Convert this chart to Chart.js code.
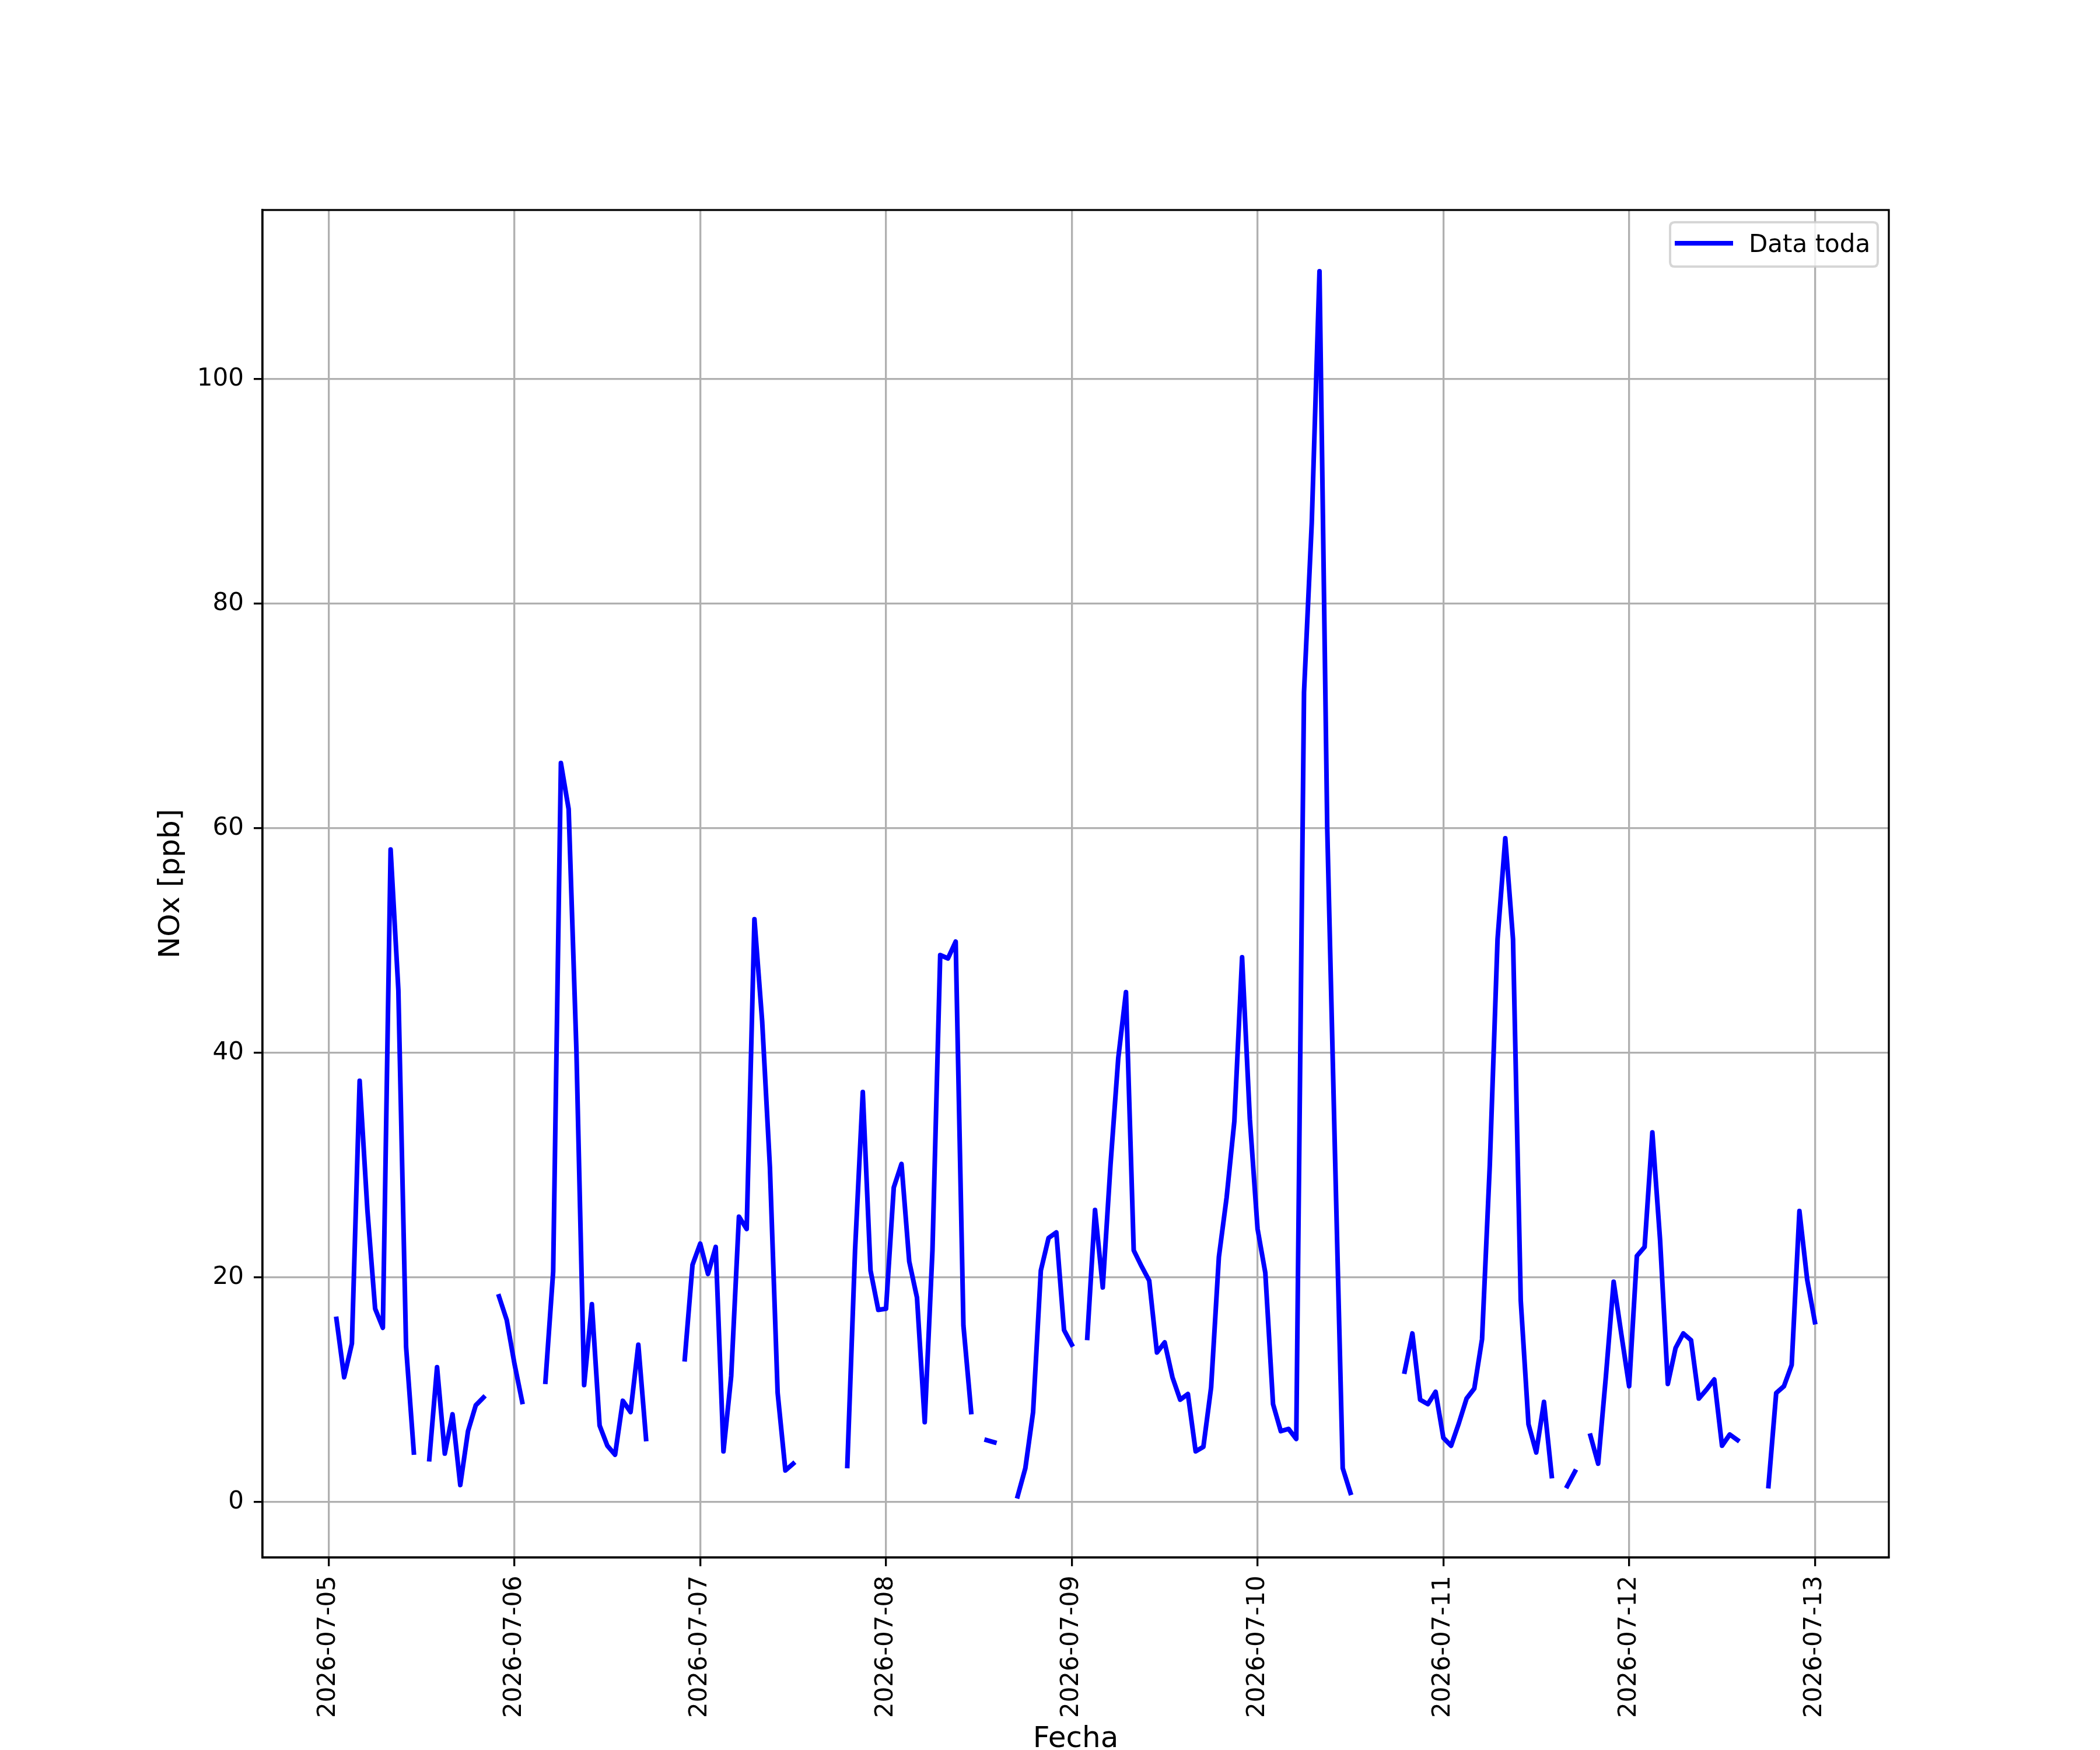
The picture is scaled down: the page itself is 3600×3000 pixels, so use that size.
<!DOCTYPE html>
<html>
<head>
<meta charset="utf-8">
<script src="https://cdn.jsdelivr.net/npm/chart.js@4.4.1/dist/chart.umd.min.js"></script>
<style>
  html, body { margin: 0; padding: 0; background: #ffffff; }
  #c { display: block; }
</style>
</head>
<body>
<canvas id="c" width="3600" height="3000" style="width:3600px;height:3000px"></canvas>
<script>
// Day tick labels (one tick per day at 00:00)
const dayLabels = ['2026-07-05','2026-07-06','2026-07-07','2026-07-08','2026-07-09','2026-07-10','2026-07-11','2026-07-12','2026-07-13'];

// Hourly NOx [ppb] values, index = hour of day (null = missing)
const nox0705 = [null,16.3,11.1,14.1,37.5,26.0,17.2,15.5,58.1,45.6,13.8,4.4,null,3.8,12.0,4.3,7.8,1.5,6.3,8.6,9.3,null,18.3,16.2];
const nox0706 = [12.3,8.9,null,null,10.7,20.5,65.8,61.7,40.3,10.4,17.6,6.8,5.0,4.2,9.0,8.0,14.0,5.6,null,null,null,null,12.7,21.1];
const nox0707 = [23.0,20.3,22.7,4.5,11.2,25.4,24.3,51.9,42.8,29.8,9.7,2.8,3.4,null,null,null,null,null,null,3.2,22.4,36.5,20.6,17.1];
const nox0708 = [17.2,28.0,30.1,21.4,18.2,7.1,22.4,48.7,48.4,49.9,15.7,8.0,null,5.5,5.3,null,null,0.5,3.0,8.0,20.6,23.5,24.0,15.3];
const nox0709 = [14.0,null,14.6,26.0,19.1,30.0,39.5,45.4,22.4,21.0,19.7,13.3,14.2,11.1,9.1,9.6,4.5,4.9,10.2,21.8,27.1,33.9,48.5,34.1];
const nox0710 = [24.3,20.4,8.7,6.3,6.5,5.6,72.1,87.2,109.6,60.0,31.0,3.0,0.8,null,null,null,null,null,null,11.6,15.0,9.1,8.7,9.8];
const nox0711 = [5.7,5.0,7.0,9.2,10.1,14.5,30.0,50.1,59.1,50.1,17.9,6.9,4.4,8.9,2.3,null,1.4,2.7,null,5.9,3.4,11.2,19.6,14.9];
const nox0712 = [10.3,21.9,22.7,32.9,23.3,10.5,13.7,15.0,14.4,9.2,10.0,10.9,5.0,6.0,5.5,null,null,null,1.4,9.7,10.3,12.2,25.9,19.8];
const nox0713 = [16.0];

const yTicks = [0, 20, 40, 60, 80, 100];
const seriesLabel = 'Data toda';
const xTitle = 'Fecha';
const yTitle = 'NOx [ppb]';

// Build points: x in hours since 2026-07-05 00:00
const days = [nox0705, nox0706, nox0707, nox0708, nox0709, nox0710, nox0711, nox0712, nox0713];
const points = [];
days.forEach((arr, d) => {
  arr.forEach((v, h) => {
    const hour = d * 24 + h;
    if (hour === 0 && v === null) return; // series starts at 01:00
    points.push({ x: hour, y: v });
  });
});

const LW = 3.3;

const framePlugin = {
  id: 'frameAndLegend',
  afterDraw(chart) {
    const { ctx, chartArea: a } = chart;
    ctx.save();
    // spines
    ctx.strokeStyle = '#000000';
    ctx.lineWidth = LW;
    ctx.strokeRect(a.left, a.top, a.right - a.left, a.bottom - a.top);
    // legend frame
    const lx = 2863, ly = 381, lw = 356, lh = 76, r = 8;
    ctx.beginPath();
    ctx.moveTo(lx + r, ly);
    ctx.lineTo(lx + lw - r, ly);
    ctx.quadraticCurveTo(lx + lw, ly, lx + lw, ly + r);
    ctx.lineTo(lx + lw, ly + lh - r);
    ctx.quadraticCurveTo(lx + lw, ly + lh, lx + lw - r, ly + lh);
    ctx.lineTo(lx + r, ly + lh);
    ctx.quadraticCurveTo(lx, ly + lh, lx, ly + lh - r);
    ctx.lineTo(lx, ly + r);
    ctx.quadraticCurveTo(lx, ly, lx + r, ly);
    ctx.closePath();
    ctx.fillStyle = 'rgba(255,255,255,0.8)';
    ctx.fill();
    ctx.strokeStyle = 'rgba(204,204,204,0.8)';
    ctx.lineWidth = 4;
    ctx.stroke();
    // legend handle
    ctx.beginPath();
    ctx.moveTo(2875, 417);
    ctx.lineTo(2967, 417);
    ctx.strokeStyle = '#0000ff';
    ctx.lineWidth = 8;
    ctx.lineCap = 'square';
    ctx.stroke();
    // legend text
    ctx.fillStyle = '#000000';
    ctx.font = '42px "DejaVu Sans"';
    ctx.textAlign = 'left';
    ctx.textBaseline = 'alphabetic';
    ctx.fillText(seriesLabel, 2998, 432);
    ctx.restore();
  }
};

new Chart(document.getElementById('c'), {
  type: 'line',
  data: {
    datasets: [{
      label: seriesLabel,
      data: points,
      borderColor: '#0000ff',
      backgroundColor: '#0000ff',
      borderWidth: 8,
      pointRadius: 0,
      pointHoverRadius: 0,
      tension: 0,
      spanGaps: false,
      borderCapStyle: 'square',
      borderJoinStyle: 'round',
      fill: false
    }]
  },
  options: {
    responsive: false,
    maintainAspectRatio: false,
    devicePixelRatio: 1,
    animation: false,
    events: [],
    layout: { padding: { left: 0, top: 360, right: 362, bottom: 0 } },
    plugins: {
      legend: { display: false },
      tooltip: { enabled: false }
    },
    scales: {
      x: {
        type: 'linear',
        min: -8.55,
        max: 201.55,
        afterFit(scale) { scale.height = 330; },
        afterBuildTicks(scale) {
          scale.ticks = dayLabels.map((_, i) => ({ value: i * 24 }));
        },
        ticks: {
          autoSkip: false,
          maxRotation: 90,
          minRotation: 90,
          padding: 16,
          color: '#000000',
          font: { family: 'DejaVu Sans', size: 42 },
          callback(value) {
            const i = Math.round(value / 24);
            return dayLabels[i] !== undefined ? dayLabels[i] : '';
          }
        },
        grid: {
          color: '#b0b0b0',
          lineWidth: LW,
          drawTicks: true,
          tickLength: 15,
          tickColor: '#000000',
          tickWidth: LW
        },
        border: { display: true, color: '#000000', width: LW },
        title: {
          display: true,
          text: xTitle,
          color: '#000000',
          font: { family: 'DejaVu Sans', size: 50, lineHeight: 0.6 },
          padding: { top: 0, bottom: 3 }
        }
      },
      y: {
        type: 'linear',
        min: -4.955,
        max: 115.055,
        afterFit(scale) { scale.width = 450; },
        afterBuildTicks(scale) {
          scale.ticks = yTicks.map(v => ({ value: v }));
        },
        ticks: {
          padding: 17,
          color: '#000000',
          font: { family: 'DejaVu Sans', size: 42 },
          callback(value) { return String(value); }
        },
        grid: {
          color: '#b0b0b0',
          lineWidth: LW,
          drawTicks: true,
          tickLength: 15,
          tickColor: '#000000',
          tickWidth: LW
        },
        border: { display: true, color: '#000000', width: LW },
        title: {
          display: true,
          text: yTitle,
          color: '#000000',
          font: { family: 'DejaVu Sans', size: 50, lineHeight: 1.2 },
          padding: { top: 264, bottom: 0 }
        }
      }
    }
  },
  plugins: [framePlugin]
});
</script>
</body>
</html>
